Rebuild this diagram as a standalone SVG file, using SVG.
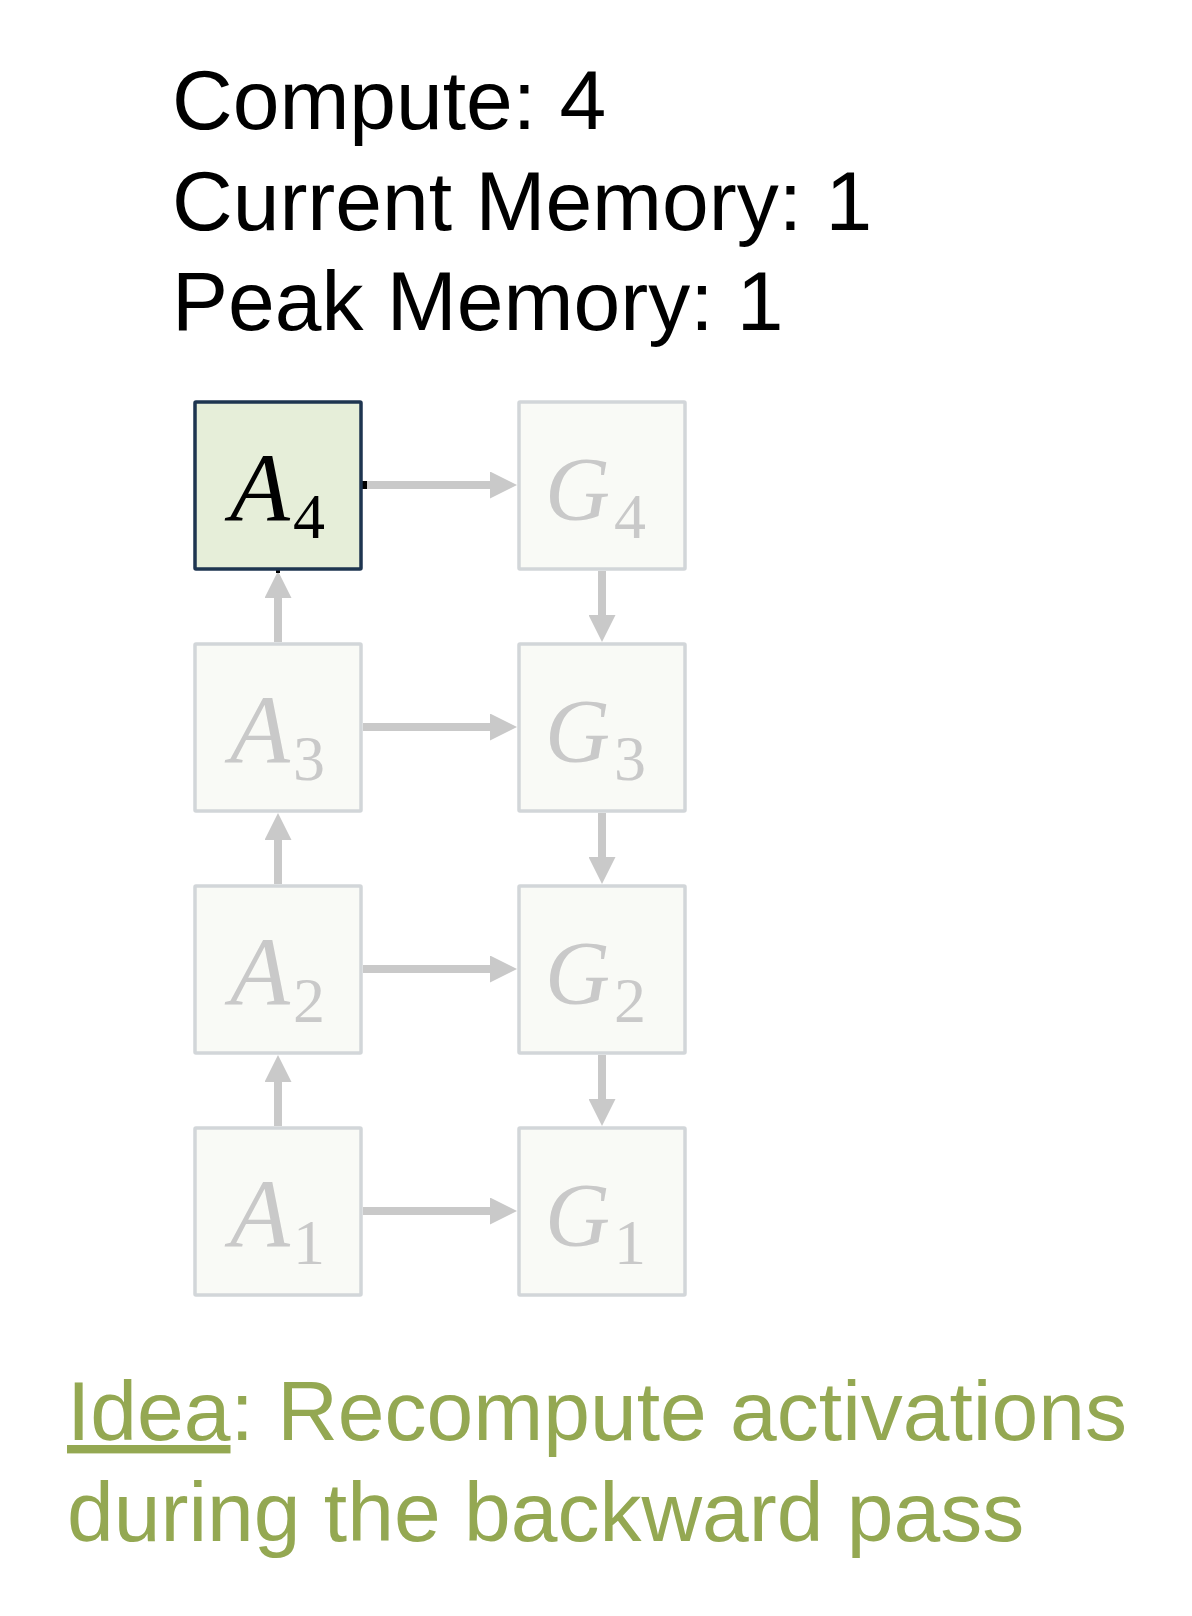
<svg xmlns="http://www.w3.org/2000/svg" width="1192" height="1616" viewBox="0 0 1192 1616">
<style>
.hdr{font-family:"Liberation Sans",Arial,sans-serif;font-size:84px;fill:#000}
.idea{font-family:"Liberation Sans",Arial,sans-serif;font-size:84px;fill:#94a852}
.box{fill:#f9faf6;stroke:#d2d6d9;stroke-width:3.5}
.box.on{fill:#e6eed9;stroke:#1e3550}
.v{font-family:"Liberation Serif","Times New Roman",serif;font-style:italic;font-size:98px;fill:#c9c9c9}
.g{font-size:90px}
.s{font-family:"Liberation Serif","Times New Roman",serif;font-size:64px;fill:#c9c9c9}
.on .v,.on .s{fill:#000}
.con{stroke:#c9c9c9;stroke-width:8;fill:none;marker-end:url(#ah)}
</style>
<defs>
<marker id="ah" markerUnits="userSpaceOnUse" markerWidth="27" markerHeight="27" refX="7" refY="13.5" orient="auto" viewBox="0 0 27 27">
<path d="M0,0 L27,13.5 L0,27 z" fill="#c9c9c9"/>
</marker>
</defs>
<rect width="1192" height="1616" fill="#fff"/>
<g id="stats">
<text class="hdr" x="172" y="129">Compute: 4</text>
<text class="hdr" x="172" y="230">Current Memory: 1</text>
<text class="hdr" x="172" y="330">Peak Memory: 1</text>
</g>
<g id="connectors">
<path class="con" d="M363,485 H497"/>
<path class="con" d="M363,727 H497"/>
<path class="con" d="M363,969 H497"/>
<path class="con" d="M363,1211 H497"/>
<path class="con" d="M278,642 V591"/>
<path class="con" d="M278,884 V833"/>
<path class="con" d="M278,1126 V1075"/>
<path class="con" d="M602,571 V622"/>
<path class="con" d="M602,813 V864"/>
<path class="con" d="M602,1055 V1106"/>
<rect x="362" y="481" width="5" height="8" fill="#000"/>
<rect x="276" y="569" width="4" height="4" fill="#000"/>
</g>
<g id="A4" class="on">
<rect class="box on" x="195" y="402" width="166" height="167" rx="1"/>
<text class="v" x="230" y="520">A</text><text class="s" x="293" y="538">4</text>
</g>
<g id="G4">
<rect class="box" x="519" y="402" width="166" height="167" rx="1"/>
<text class="v g" x="545" y="520">G</text><text class="s" x="614" y="538">4</text>
</g>
<g id="A3">
<rect class="box" x="195" y="644" width="166" height="167" rx="1"/>
<text class="v" x="230" y="762">A</text><text class="s" x="293" y="780">3</text>
</g>
<g id="G3">
<rect class="box" x="519" y="644" width="166" height="167" rx="1"/>
<text class="v g" x="545" y="762">G</text><text class="s" x="614" y="780">3</text>
</g>
<g id="A2">
<rect class="box" x="195" y="886" width="166" height="167" rx="1"/>
<text class="v" x="230" y="1004">A</text><text class="s" x="293" y="1022">2</text>
</g>
<g id="G2">
<rect class="box" x="519" y="886" width="166" height="167" rx="1"/>
<text class="v g" x="545" y="1004">G</text><text class="s" x="614" y="1022">2</text>
</g>
<g id="A1">
<rect class="box" x="195" y="1128" width="166" height="167" rx="1"/>
<text class="v" x="230" y="1246">A</text><text class="s" x="293" y="1264">1</text>
</g>
<g id="G1">
<rect class="box" x="519" y="1128" width="166" height="167" rx="1"/>
<text class="v g" x="545" y="1246">G</text><text class="s" x="614" y="1264">1</text>
</g>
<g id="idea">
<text class="idea" x="67" y="1440"><tspan text-decoration="underline">Idea</tspan>: Recompute activations</text>
<text class="idea" x="67" y="1541">during the backward pass</text>
</g>
</svg>
